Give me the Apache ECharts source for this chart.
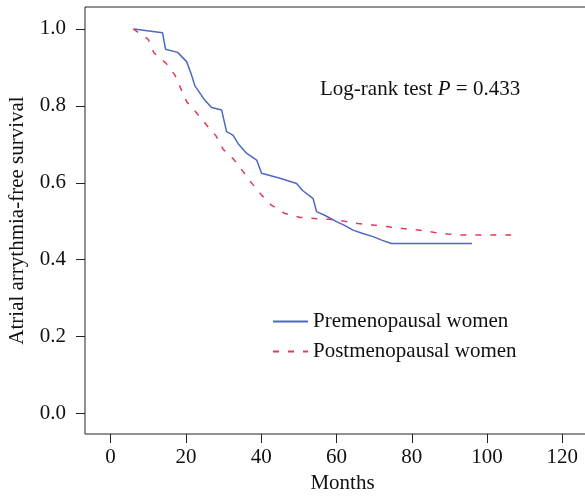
<!DOCTYPE html>
<html>
<head>
<meta charset="utf-8">
<script src="https://cdn.jsdelivr.net/npm/echarts@6/dist/echarts.min.js"></script>
<style>
  html, body { margin: 0; padding: 0; background: #fff; }
  #main { width: 585px; height: 496px; }
</style>
</head>
<body>
<div id="main"></div>
<script>
// Kaplan-Meier curves (months, survival)
var preMonths = [6.2, 13.8, 14.6, 17.8, 20.2, 21.5, 22.4, 25, 26.8, 29.5, 30.8, 32.5, 34, 36.1, 38.8, 40.1, 45, 49.4, 51, 53.8, 54.7, 57, 60, 62, 64.4, 67, 69.7, 72, 74.6, 96];
var preSurv   = [1.0, 0.99, 0.947, 0.939, 0.915, 0.88, 0.852, 0.815, 0.796, 0.789, 0.733, 0.724, 0.70, 0.677, 0.659, 0.625, 0.612, 0.598, 0.58, 0.559, 0.525, 0.515, 0.499, 0.49, 0.477, 0.468, 0.46, 0.451, 0.442, 0.442];

var postMonths = [6, 10, 11.5, 14.7, 17.1, 18.6, 20.2, 22.8, 25.5, 28, 29.9, 32.7, 35.2, 37.4, 40.1, 42.7, 46.3, 50.3, 54.2, 58.2, 61.7, 65.7, 69.7, 73.7, 77.7, 81.7, 86.1, 89.6, 93.6, 106.4];
var postSurv   = [1.0, 0.973, 0.938, 0.911, 0.88, 0.846, 0.811, 0.782, 0.75, 0.722, 0.687, 0.661, 0.629, 0.6, 0.568, 0.542, 0.52, 0.51, 0.507, 0.505, 0.501, 0.494, 0.49, 0.486, 0.481, 0.477, 0.471, 0.467, 0.464, 0.464];

var xTicks = [0, 20, 40, 60, 80, 100, 120];
var yTicks = [0, 0.2, 0.4, 0.6, 0.8, 1.0];
var seriesNames = ['Premenopausal women', 'Postmenopausal women'];

var FONT = '"Liberation Serif", "DejaVu Serif", serif';
var FS = 21;

function zip(xs, ys) {
    return xs.map(function (x, i) { return [x, ys[i]]; });
}

var chart = echarts.init(document.getElementById('main'), null, {renderer: 'canvas'});

chart.setOption({
    backgroundColor: '#fff',
    animation: false,
    grid: {
        left: 85, top: 7, bottom: 62, width: 515,
        containLabel: false, outerBoundsMode: 'none',
        show: true, borderColor: '#222', borderWidth: 1, backgroundColor: 'transparent'
    },
    xAxis: {
        type: 'value', min: -6.8, max: 130,
        name: 'Months', nameLocation: 'middle', nameGap: 37,
        nameTextStyle: {fontFamily: FONT, fontSize: FS, color: '#111'},
        axisLine: {show: false, onZero: false},
        splitLine: {show: false},
        axisTick: {show: true, customValues: xTicks, length: 9, lineStyle: {color: '#222'}},
        axisLabel: {customValues: xTicks, margin: 13, fontFamily: FONT, fontSize: FS, color: '#111'}
    },
    yAxis: {
        type: 'value', min: -0.053, max: 1.057,
        name: 'Atrial arrythmia-free survival', nameLocation: 'middle', nameGap: 57,
        nameTextStyle: {fontFamily: FONT, fontSize: FS, color: '#111'},
        axisLine: {show: false, onZero: false},
        splitLine: {show: false},
        axisTick: {show: true, customValues: yTicks, length: 9, lineStyle: {color: '#222'}},
        axisLabel: {
            customValues: yTicks, margin: 19, fontFamily: FONT, fontSize: FS, color: '#111',
            formatter: function (v) { return v.toFixed(1); }
        }
    },
    legend: {
        orient: 'vertical', left: 267, top: 306,
        itemWidth: 35, itemHeight: 14, itemGap: 9,
        itemStyle: {opacity: 0, borderWidth: 0},
        textStyle: {fontFamily: FONT, fontSize: FS, color: '#111'},
        data: seriesNames
    },
    graphic: [{
        type: 'text', left: 320, top: 79,
        style: {
            text: '{n|Log-rank test }{i|P}{n| = 0.433}',
            rich: {
                n: {fontFamily: FONT, fontSize: FS, fill: '#111'},
                i: {fontFamily: FONT, fontSize: FS, fontStyle: 'italic', fill: '#111'}
            }
        }
    }],
    series: [
        {
            name: seriesNames[0], type: 'line', symbol: 'none',
            data: zip(preMonths, preSurv),
            lineStyle: {color: '#4c68c2', width: 1.5},
            itemStyle: {color: '#4c68c2'}
        },
        {
            name: seriesNames[1], type: 'line', symbol: 'none',
            data: zip(postMonths, postSurv),
            lineStyle: {color: '#e23a55', width: 1.5, type: [6, 9]},
            itemStyle: {color: '#e23a55'}
        }
    ]
});
</script>
</body>
</html>
